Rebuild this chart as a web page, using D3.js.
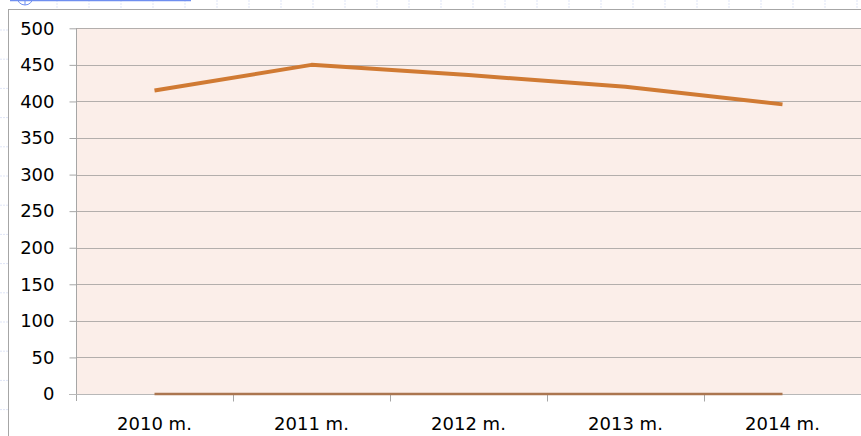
<!DOCTYPE html>
<html lang="lt">
<head>
    <meta charset="UTF-8">
    <title>2010–2014 m.</title>
    <script src="https://cdnjs.cloudflare.com/ajax/libs/d3/7.8.5/d3.min.js"></script>
    <style>
        body {
            margin: 0;
            background: #ffffff;
            overflow: hidden;
        }
        svg {
            display: block;
        }
        .tick-label {
            font-family: "DejaVu Sans", sans-serif;
            font-size: 18px;
            fill: #000;
        }
    </style>
</head>
<body>
    <svg id="chart" width="861" height="436"></svg>

    <script>
        // chart data
        const years = ["2010 m.", "2011 m.", "2012 m.", "2013 m.", "2014 m."];
        const mainSeries = [415, 450, 436, 420, 396];
        const zeroSeries = [0, 0, 0, 0, 0];
        const yTicks = [0, 50, 100, 150, 200, 250, 300, 350, 400, 450, 500];

        const svg = d3.select("#chart");
        const width = 861;
        const height = 436;

        // spreadsheet grid behind the chart object
        const sheet = svg.append("g");
        for (let x = 57; x < width; x += 32) {
            sheet.append("line")
                .attr("x1", x).attr("x2", x)
                .attr("y1", 0).attr("y2", height)
                .attr("stroke", "#dfe5f7")
                .attr("stroke-dasharray", "2,1");
        }
        for (let y = 30; y < height; y += 29.2) {
            sheet.append("line")
                .attr("x1", 0).attr("x2", width)
                .attr("y1", y).attr("y2", y)
                .attr("stroke", "#dfe5f7")
                .attr("stroke-dasharray", "2,1");
        }

        // chart frame
        svg.append("rect")
            .attr("x", 8.5).attr("y", 9.5)
            .attr("width", 900).attr("height", 500)
            .attr("fill", "#ffffff")
            .attr("stroke", "#a6a6a6");

        // selection marker at top left
        svg.append("line")
            .attr("x1", 10).attr("x2", 191)
            .attr("y1", 0.5).attr("y2", 0.5)
            .attr("stroke", "#6f8ff0").attr("stroke-width", 1.5);
        svg.append("circle")
            .attr("cx", 25).attr("cy", -3).attr("r", 8)
            .attr("fill", "none").attr("stroke", "#6f8ff0");
        svg.append("line")
            .attr("x1", 25).attr("x2", 25).attr("y1", 0).attr("y2", 5)
            .attr("stroke", "#6f8ff0");

        // plot area
        const plot = { left: 76, right: 861, top: 28.3, bottom: 394 };

        const x = d3.scaleBand()
            .domain(years)
            .range([plot.left, plot.right]);

        const y = d3.scaleLinear()
            .domain([0, 500])
            .range([plot.bottom, plot.top]);

        svg.append("rect")
            .attr("x", plot.left).attr("y", plot.top)
            .attr("width", plot.right - plot.left + 10)
            .attr("height", plot.bottom - plot.top)
            .attr("fill", "#fbeee9");

        // gridlines
        svg.append("g")
            .selectAll("line")
            .data(yTicks.filter(d => d > 0))
            .join("line")
            .attr("x1", plot.left).attr("x2", width)
            .attr("y1", d => Math.round(y(d)) + 0.5)
            .attr("y2", d => Math.round(y(d)) + 0.5)
            .attr("stroke", "#b3aeac");

        // y axis
        const yAxis = svg.append("g")
            .attr("transform", `translate(${plot.left + 0.5},0)`)
            .call(d3.axisLeft(y).tickValues(yTicks).tickSize(7).tickPadding(15));
        yAxis.select(".domain").attr("stroke", "#a6a6a6")
            .attr("d", `M0,${plot.top}V${plot.bottom + 7}`);
        yAxis.selectAll(".tick line").attr("stroke", "#a6a6a6");
        yAxis.selectAll(".tick text")
            .attr("class", "tick-label")
            .attr("font-family", null)
            .attr("font-size", null);

        // x axis
        const xTicks = years.map(d => x(d)).slice(1);
        const xAxis = svg.append("g")
            .attr("transform", `translate(0,${Math.round(plot.bottom) + 0.5})`);
        xAxis.append("line")
            .attr("x1", plot.left - 7).attr("x2", width)
            .attr("y1", 0).attr("y2", 0)
            .attr("stroke", "#b8b8b8");
        xAxis.selectAll(".xtick")
            .data(xTicks)
            .join("line")
            .attr("x1", d => Math.round(d) + 0.5).attr("x2", d => Math.round(d) + 0.5)
            .attr("y1", 0).attr("y2", 7)
            .attr("stroke", "#a6a6a6");
        xAxis.selectAll(".xlabel")
            .data(years)
            .join("text")
            .attr("class", "tick-label")
            .attr("x", d => x(d) + x.bandwidth() / 2)
            .attr("y", 35)
            .attr("text-anchor", "middle")
            .text(d => d);

        // series lines
        const line = d3.line()
            .x((d, i) => x(years[i]) + x.bandwidth() / 2)
            .y(d => y(d));

        svg.append("path")
            .datum(zeroSeries)
            .attr("d", line)
            .attr("fill", "none")
            .attr("stroke", "#ab7650")
            .attr("stroke-width", 2.5);

        svg.append("path")
            .datum(mainSeries)
            .attr("d", line)
            .attr("fill", "none")
            .attr("stroke", "#d07a33")
            .attr("stroke-width", 4)
            .attr("stroke-linejoin", "round");
    </script>
</body>
</html>
